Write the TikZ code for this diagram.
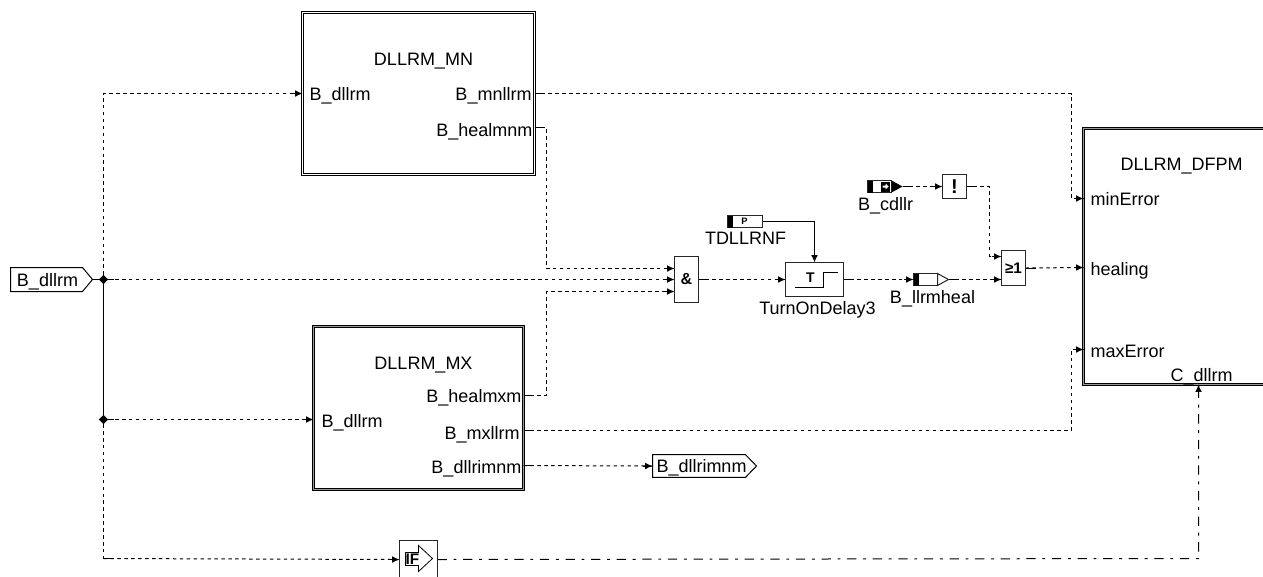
\documentclass[tikz,border=0pt]{standalone}
\usepackage{fontspec}
\setmainfont{Liberation Sans}
\usetikzlibrary{arrows.meta,calc,shapes.geometric}
\tikzset{
  wire/.style={line width=0.75pt,black},
  tipped/.style={wire,-{Latex[length=5.5pt,width=5pt]}},
  sig/.style={wire,dash pattern=on 2.6pt off 2.6pt},
  sigdot/.style={wire,dash pattern=on 7pt off 5pt on 2.2pt off 5pt},
  block/.style={draw=black,line width=0.6pt,double=#1,double distance=1.2pt,inner sep=0,outer sep=0,anchor=north west},
  block/.default=white,
  plain/.style={draw=black!85,line width=0.75pt,fill=white,inner sep=0,outer sep=0},
  size/.style 2 args={minimum width=#1*0.75pt,minimum height=#2*0.75pt},
  lab/.style={inner sep=0,outer sep=0,font=\fontsize{13.5}{16}\selectfont,text height=9.7pt,text depth=2.8pt,yshift=-1.5pt},
  sym/.style={inner sep=0,outer sep=0,font=\fontsize{12}{13}\bfseries\selectfont},
  junction/.style={diamond,fill=black,inner sep=0,outer sep=0,minimum size=7pt},
}
\newcommand\sigline[4][sig]{%
  \draw[#1] (#2) #3 -- (#4);
  \draw[wire] (#2) -- ++(10,0);
  \draw[tipped] ($(#4)+(-10,0)$) -- (#4);
}
\begin{document}
\begin{tikzpicture}[x=0.75pt,y=-0.75pt,shift={(0.5,0.5)}]
\clip (-0.5,-0.5) rectangle (1262.5,575.5);
\useasboundingbox (-0.5,-0.5) rectangle (1262.5,575.5);

% hierarchical blocks
\node[block,size={232}{162}] (mn) at (302,12) {};
\node[block=black!40,size={210}{163}] (mx) at (313,326) {};
\node[block=black!40,size={200}{256}] (dfpm) at (1083,128) {};

\node[lab] (mnT) at (423,58) {DLLRM\_MN};
\node[lab,anchor=west] (mnA) at (309,93) {B\_dllrm};
\node[lab,anchor=east] (mnB) at (531,93) {B\_mnllrm};
\node[lab,anchor=east] (mnC) at (532,129) {B\_healmnm};

\node[lab] (mxT) at (423,362) {DLLRM\_MX};
\node[lab,anchor=west] (mxA) at (321,420) {B\_dllrm};
\node[lab,anchor=east] (mxB) at (521,395) {B\_healmxm};
\node[lab,anchor=east] (mxC) at (519,432) {B\_mxllrm};
\node[lab,anchor=east] (mxD) at (521,466) {B\_dllrimnm};

\node[lab] (dfT) at (1181,163) {DLLRM\_DFPM};
\node[lab,anchor=west] (dfA) at (1090,198) {minError};
\node[lab,anchor=west] (dfB) at (1090,268) {healing};
\node[lab,anchor=west] (dfC) at (1090,350) {maxError};
\node[lab] (dfD) at (1201,374) {C\_dllrm};

% input / output signals
\node[minimum width=54pt,minimum height=18pt,inner sep=0,outer sep=0] (inp) at (46,279) {};
\draw[wire] (inp.north west) -- (inp.north east) -- ($(inp.east)+(10,0)$) -- (inp.south east) -- (inp.south west) -- cycle;
\node[lab] (inpL) at (47,279) {B\_dllrm};
\coordinate (inpTip) at ($(inp.east)+(10,0)$);
\node[minimum width=69.75pt,minimum height=17pt,inner sep=0,outer sep=0] (outp) at (698.5,465.5) {};
\draw[wire] (outp.north west) -- (outp.north east) -- ($(outp.east)+(11,0)$) -- (outp.south east) -- (outp.south west) -- cycle;
\node[lab] (outL) at (701,465.5) {B\_dllrimnm};

% logic blocks
\node[plain,size={24}{46},sym,font=\fontsize{12}{13}\bfseries\selectfont] (and) at (686,279) {\&};
\node[plain,size={58}{34}] (dly) at (814,279) {};
\node[plain,size={24}{24},font=\fontsize{15}{16}\bfseries\selectfont] (notb) at (954,186) {!};
\node[plain,size={24}{35},sym,font=\fontsize{11.5}{12}\bfseries\selectfont] (orb) at (1013,267.5) {≥1};
\node[plain,size={38}{38}] (ifb) at (418,559) {};

% delay symbol
\node[sym,font=\fontsize{10.5}{11}\bfseries\selectfont] (dlyT) at (810,277) {T};
\draw[line width=1.1pt] (794,287) -- (823,287) -- (823,272) -- (837,272);
\node[lab] (dlyL) at (817,307) {TurnOnDelay3};

% IF symbol
\draw[line width=0.6pt] (405,552) -- (418,552) -- (418,545) -- (432,558) -- (418,571) -- (418,565) -- (405,565) -- cycle;
\node[sym,font=\fontsize{11.5}{12}\bfseries\selectfont] (ifT) at (412,559) {IF};

% parameter
\node[plain,size={35}{12}] (par) at (744.5,221) {};
\fill (727,215) rectangle (732,227);
\node[sym,font=\fontsize{7}{7}\bfseries\selectfont] (parP) at (744,221) {P};
\node[lab] (parL) at (745,237) {TDLLRNF};

% B_llrmheal message
\node[plain,size={24}{12}] (heal) at (925,279) {};
\fill (913,273) rectangle (918,285);
\draw[plain] (heal.north east) -- ($(heal.east)+(11,0)$) -- (heal.south east) -- cycle;
\coordinate (healTip) at ($(heal.east)+(11,0)$);
\node[lab] (healL) at (932,296) {B\_llrmheal};

% B_cdllr message
\node[plain,size={24}{12}] (cd) at (879,186) {};
\fill (867,180) rectangle (872,192);
\fill (880,181) rectangle (889,191);
\fill[white] (882,185) -- (885,185) -- (885,183) -- (888,186) -- (885,189) -- (885,187) -- (882,187) -- cycle;
\fill (cd.north east) -- ($(cd.east)+(11,0)$) -- (cd.south east) -- cycle;
\coordinate (cdTip) at ($(cd.east)+(11,0)$);
\node[lab] (cdL) at (885,203) {B\_cdllr};

% junctions
\node[junction] (j1) at (103,279) {};
\node[junction] (j2) at (103,419) {};
\coordinate (j3) at (103,558);

% ports
\coordinate (mnIn) at (mn.west |- 0,93);
\coordinate (mnOa) at (mn.east |- 0,93);
\coordinate (mnOb) at (mn.east |- 0,127);
\coordinate (mxIn) at (mx.west |- 0,419);
\coordinate (mxOa) at (mx.east |- 0,395);
\coordinate (mxOb) at (mx.east |- 0,430);
\coordinate (mxOc) at (mx.east |- 0,465);
\coordinate (dfA0) at (dfpm.west |- 0,198);
\coordinate (dfB0) at (dfpm.west |- 0,267);
\coordinate (dfC0) at (dfpm.west |- 0,349);
\coordinate (dfD0) at (1198,384);
\coordinate (andA) at (and.west |- 0,268);
\coordinate (andB) at (and.west |- 0,279);
\coordinate (andC) at (and.west |- 0,291);
\coordinate (orA) at (orb.west |- 0,256);
\coordinate (orB) at (orb.west |- 0,279);

% connectors
\draw[wire] (inpTip) -- (j1);
\draw[wire] (j1) -- (j2);
\draw[sig] (j2) -- (j3);
\draw[sig] (j1) |- (mnIn);
\draw[tipped] ($(mnIn)+(-10,0)$) -- (mnIn);
\sigline{j1}{}{andB}
\sigline{j2}{}{mxIn}
\sigline{j3}{}{ifb.west}
\sigline{mnOa}{-| (1071,198)}{dfA0}
\sigline{mnOb}{-- (546,127) -- (546,268)}{andA}
\sigline{mxOa}{-- (546,395) -- (546,291)}{andC}
\sigline{mxOb}{-| (1071,349)}{dfC0}
\sigline{mxOc}{}{outp.west}
\sigline{and.east}{}{dly.west}
\sigline{dly.east}{}{heal.west}
\sigline{healTip}{}{orB}
\sigline{cdTip}{}{notb.west}
\sigline{notb.east}{-- (989,186) -- (989,256)}{orA}
\sigline{orb.east}{}{dfB0}
\draw[tipped] (par.east) -| (dly.north);
\draw[sigdot] (ifb.east) -- (1198,558) -- (dfD0);
\draw[tipped] (1198,396) -- (dfD0);
\end{tikzpicture}
\end{document}
